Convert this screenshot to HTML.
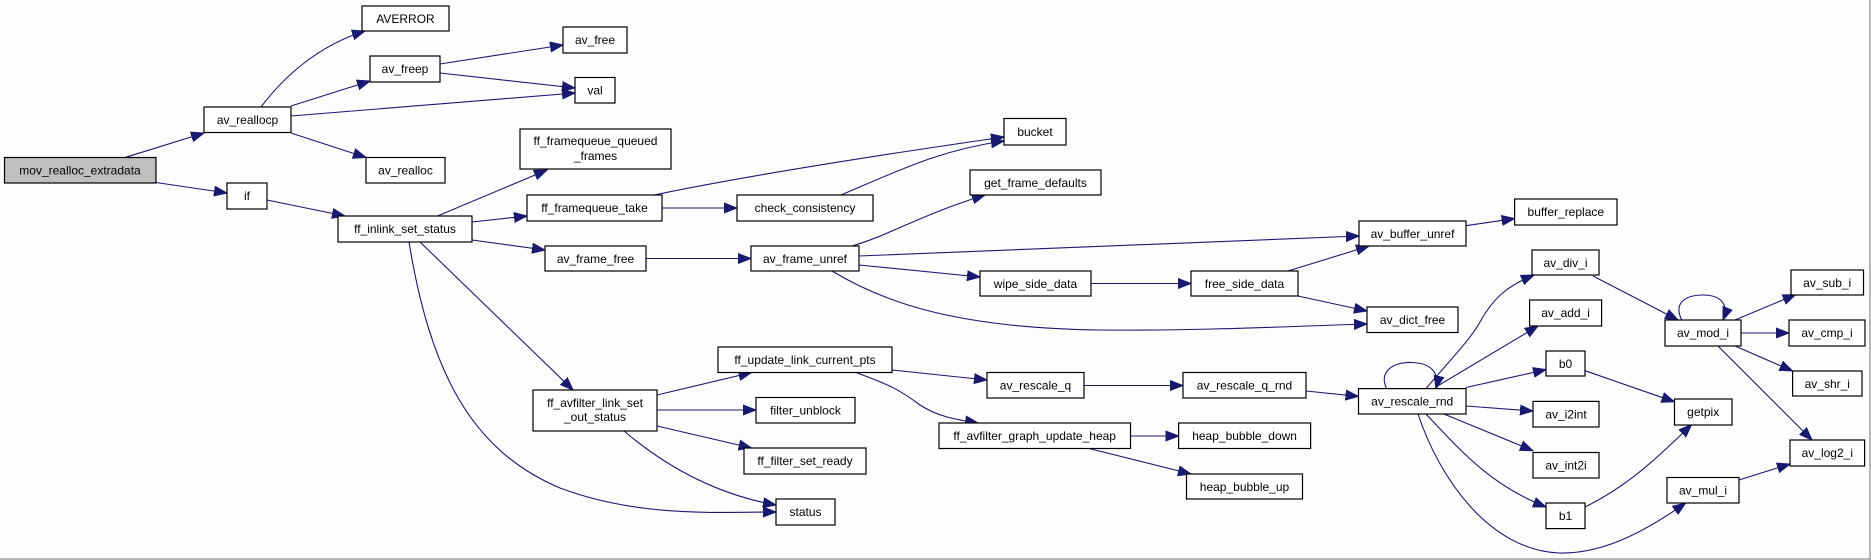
<!DOCTYPE html>
<html><head><meta charset="utf-8"><style>
html,body{margin:0;padding:0;background:#fff;}
svg{display:block;}
text{font-family:"Liberation Sans",Arial,sans-serif;font-size:12px;fill:#000;text-anchor:middle;}
.b{fill:#fff;stroke:#000;stroke-width:1.2;}
.e{fill:none;stroke:#191970;stroke-width:1.1;marker-end:url(#a);}
</style></head><body>
<svg width="1871" height="560" viewBox="0 0 1871 560" xmlns="http://www.w3.org/2000/svg">
<defs><marker id="a" markerUnits="userSpaceOnUse" markerWidth="14" markerHeight="11" refX="13" refY="5.5" orient="auto"><path d="M0,0.5 L13,5.5 L0,10.5 z" fill="#191970" stroke="#191970"/></marker></defs>
<rect x="0" y="0" width="1871" height="560" fill="#fdfdfd"/>
<line x1="0" y1="559" x2="1871" y2="559" stroke="#a0a0a0" stroke-width="1.5"/>
<line x1="1870" y1="0" x2="1870" y2="560" stroke="#a0a0a0" stroke-width="1.5"/>
<g>
<path class="e" d="M125,157.5 L204,133"/>
<path class="e" d="M156,182.5 L227,193"/>
<path class="e" d="M261,107 C285,75 320,45 365,31"/>
<path class="e" d="M291,106 L370,81"/>
<path class="e" d="M291,116 L575,93"/>
<path class="e" d="M291,133 L366,157.5"/>
<path class="e" d="M440,64 L563,45"/>
<path class="e" d="M440,73 L575,88"/>
<path class="e" d="M267,200 L345,216"/>
<path class="e" d="M437.5,216 L547,170"/>
<path class="e" d="M472,222 L527,216"/>
<path class="e" d="M472,240 L545,250"/>
<path class="e" d="M420,242 L573,390"/>
<path class="e" d="M409,242 C430,370 470,450 560,488 C640,518 720,512 776,512"/>
<path class="e" d="M624,431 C670,470 720,495 776,505"/>
<path class="e" d="M654,195 C750,175 900,152 1004,137"/>
<path class="e" d="M662,208 L737,208"/>
<path class="e" d="M841,195 C900,170 940,150 1004,141"/>
<path class="e" d="M646,258.5 L751,258.5"/>
<path class="e" d="M852,246 C890,235 920,215 985,195"/>
<path class="e" d="M859,256 L1359,236"/>
<path class="e" d="M859,265 L980,277"/>
<path class="e" d="M832,271 C880,300 950,328 1100,330 C1200,331 1300,326 1367,324"/>
<path class="e" d="M1091,283.5 L1191,283.5"/>
<path class="e" d="M1288,271 L1369,246"/>
<path class="e" d="M1298,296 L1367,311"/>
<path class="e" d="M1466,225.7 L1514.6,218.6"/>
<path class="e" d="M657,395 L751.6,372.5"/>
<path class="e" d="M657,410 L756,410"/>
<path class="e" d="M657,426 L751.6,448"/>
<path class="e" d="M892,370 L987,380"/>
<path class="e" d="M856,372.5 C890,385 900,390 920,405 C940,418 960,420 978,423"/>
<path class="e" d="M1084,385.5 L1183,385.5"/>
<path class="e" d="M1130.5,436 L1178.6,436"/>
<path class="e" d="M1089.5,448.6 L1191,474"/>
<path class="e" d="M1306,391 L1358.5,396.4"/>
<path class="e" d="M1386.6,388.6 C1378,370 1395,362 1412,362.5 C1430,363 1440,372 1436,388.6"/>
<path class="e" d="M1426,388.6 C1450,360 1470,340 1480,322 C1495,295 1510,285 1534,275"/>
<path class="e" d="M1435,387.5 L1538,326"/>
<path class="e" d="M1466,387.5 L1546,369.6"/>
<path class="e" d="M1466,406 L1533,411"/>
<path class="e" d="M1444,414 L1533,450.7"/>
<path class="e" d="M1426,414 C1460,450 1490,485 1546,507"/>
<path class="e" d="M1418,414 C1440,480 1490,550 1559,553 C1600,554 1640,535 1685.6,503"/>
<path class="e" d="M1593,276 L1678,320"/>
<path class="e" d="M1585,370.7 L1674.5,401.8"/>
<path class="e" d="M1585,507 C1630,485 1660,455 1691.6,424.6"/>
<path class="e" d="M1681.7,320 C1672,300 1690,295 1703,295 C1718,295 1730,302 1723,320"/>
<path class="e" d="M1735,320 L1795.7,294.6"/>
<path class="e" d="M1741,333 L1789,333"/>
<path class="e" d="M1735,346 L1792.6,371"/>
<path class="e" d="M1718,346 L1812,440"/>
<path class="e" d="M1739,480 L1790,464"/>
</g>
<g>
<rect x="4.5" y="157.5" width="151.5" height="25.5" fill="#bfbfbf" stroke="#000" stroke-width="1.2"/><text x="80" y="174.5">mov_realloc_extradata</text>
<rect class="b" x="204" y="107" width="87" height="25.5"/><text x="247.5" y="124">av_reallocp</text>
<rect class="b" x="362" y="6" width="87" height="25"/><text x="405.5" y="23">AVERROR</text>
<rect class="b" x="370" y="56" width="70" height="26"/><text x="405" y="73">av_freep</text>
<rect class="b" x="563" y="27" width="64" height="26"/><text x="595" y="44">av_free</text>
<rect class="b" x="575" y="77.5" width="40" height="25.5"/><text x="595" y="94.5">val</text>
<rect class="b" x="366" y="157.5" width="79" height="25.5"/><text x="405.5" y="174.5">av_realloc</text>
<rect class="b" x="227" y="183" width="40" height="26"/><text x="247" y="200">if</text>
<rect class="b" x="338" y="216" width="134" height="26"/><text x="405" y="233">ff_inlink_set_status</text>
<rect class="b" x="520" y="129" width="151" height="40"/><text x="595.5" y="145">ff_framequeue_queued</text><text x="595.5" y="160">_frames</text>
<rect class="b" x="527" y="195" width="135" height="26"/><text x="594.5" y="212">ff_framequeue_take</text>
<rect class="b" x="545" y="246" width="101" height="25"/><text x="595.5" y="263">av_frame_free</text>
<rect class="b" x="533" y="390" width="124" height="41"/><text x="595" y="407">ff_avfilter_link_set</text><text x="595" y="421">_out_status</text>
<rect class="b" x="1004" y="118.5" width="62" height="26.5"/><text x="1035" y="136">bucket</text>
<rect class="b" x="737" y="195" width="136" height="26"/><text x="805" y="212">check_consistency</text>
<rect class="b" x="970" y="170" width="131" height="25"/><text x="1035.5" y="187">get_frame_defaults</text>
<rect class="b" x="751" y="246" width="108" height="25"/><text x="805" y="263">av_frame_unref</text>
<rect class="b" x="980" y="271" width="111" height="25"/><text x="1035.5" y="288">wipe_side_data</text>
<rect class="b" x="1191" y="271" width="107" height="25"/><text x="1244.5" y="288">free_side_data</text>
<rect class="b" x="718" y="347" width="174" height="25.5"/><text x="805" y="364">ff_update_link_current_pts</text>
<rect class="b" x="756" y="397.5" width="99" height="25.5"/><text x="805.5" y="414.5">filter_unblock</text>
<rect class="b" x="744" y="448" width="122" height="26"/><text x="805" y="465">ff_filter_set_ready</text>
<rect class="b" x="776" y="499" width="59" height="26"/><text x="805.5" y="516">status</text>
<rect class="b" x="987" y="372.5" width="97" height="25.5"/><text x="1035.5" y="389.5">av_rescale_q</text>
<rect class="b" x="1183" y="372.5" width="123" height="25.5"/><text x="1244.5" y="389.5">av_rescale_q_rnd</text>
<rect class="b" x="939" y="423" width="191.5" height="25.5"/><text x="1034.7" y="440">ff_avfilter_graph_update_heap</text>
<rect class="b" x="1178.6" y="423" width="132" height="25.5"/><text x="1244.6" y="440">heap_bubble_down</text>
<rect class="b" x="1186.5" y="474" width="116" height="25"/><text x="1244.5" y="491">heap_bubble_up</text>
<rect class="b" x="1514.6" y="199" width="102.4" height="26"/><text x="1565.8" y="216">buffer_replace</text>
<rect class="b" x="1359" y="221" width="107" height="25"/><text x="1412.5" y="238">av_buffer_unref</text>
<rect class="b" x="1367" y="307" width="91" height="25.5"/><text x="1412.5" y="324">av_dict_free</text>
<rect class="b" x="1358.5" y="388.6" width="107.5" height="25.4"/><text x="1412.2" y="405.5">av_rescale_rnd</text>
<rect class="b" x="1532" y="250" width="67" height="25"/><text x="1565.5" y="267">av_div_i</text>
<rect class="b" x="1529.6" y="300" width="72" height="26"/><text x="1565.6" y="317">av_add_i</text>
<rect class="b" x="1546" y="351" width="39" height="25"/><text x="1565.5" y="368">b0</text>
<rect class="b" x="1533" y="401.4" width="66" height="25.6"/><text x="1566" y="418.5">av_i2int</text>
<rect class="b" x="1533" y="452.5" width="66" height="25.5"/><text x="1566" y="469.5">av_int2i</text>
<rect class="b" x="1546" y="503" width="39" height="25.6"/><text x="1565.5" y="520">b1</text>
<rect class="b" x="1674.5" y="399" width="57.5" height="26"/><text x="1703.2" y="416">getpix</text>
<rect class="b" x="1665" y="320" width="76" height="26"/><text x="1703" y="337">av_mod_i</text>
<rect class="b" x="1791" y="270" width="72.5" height="25"/><text x="1827.2" y="287">av_sub_i</text>
<rect class="b" x="1789" y="320" width="76" height="26"/><text x="1827" y="337">av_cmp_i</text>
<rect class="b" x="1792.6" y="371" width="69.4" height="25"/><text x="1827.3" y="388">av_shr_i</text>
<rect class="b" x="1790" y="440" width="74.6" height="26"/><text x="1827.3" y="457">av_log2_i</text>
<rect class="b" x="1667" y="477.5" width="72" height="25.5"/><text x="1703" y="494.5">av_mul_i</text>
</g>
</svg>
</body></html>
